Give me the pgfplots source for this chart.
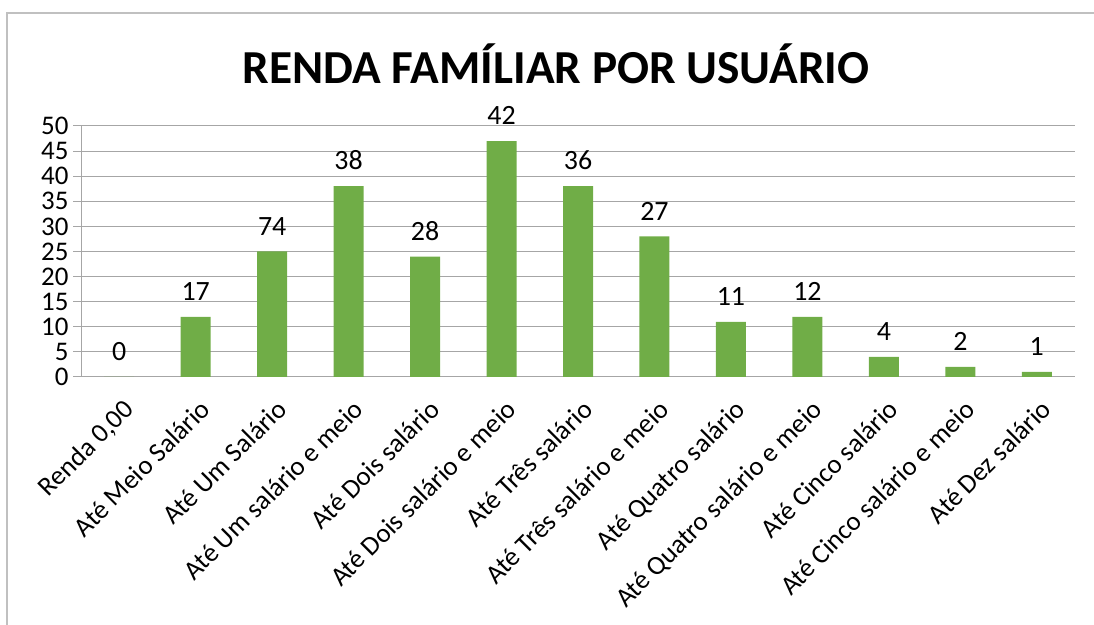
\documentclass[border=0pt]{standalone}
\usepackage{pgfplots}
\pgfplotsset{compat=1.18}
\usepackage{pgfplotstable}
\usepackage{fontspec}
\setmainfont{Carlito}
\definecolor{bargreen}{HTML}{70AD47}
\definecolor{gridgray}{HTML}{A6A6A6}
\definecolor{framegray}{HTML}{C0C0C0}
\pgfplotstableread{
x y lab
0 0 0
1 12 17
2 25 74
3 38 38
4 24 28
5 47 42
6 38 36
7 28 27
8 11 11
9 12 12
10 4 4
11 2 2
12 1 1
}\datatab
\begin{document}
\begin{tikzpicture}[x=1bp,y=1bp]
\useasboundingbox (0,0) rectangle (1094,625);
\draw[framegray,line width=1.2bp] (7,0) -- (7,612) -- (1094,612);
\node[font=\fontsize{47.5}{56}\selectfont\bfseries] at (556,561) {RENDA FAMÍLIAR POR USUÁRIO};
\begin{axis}[
  at={(81bp,248bp)}, anchor=south west,
  width=994bp, height=251bp, scale only axis,
  xmin=-0.5, xmax=12.5, ymin=0, ymax=50,
  ytick={0,5,...,50},
  xtick={0,...,12},
  xticklabels={Renda 0{,}00, Até Meio Salário, Até Um Salário, Até Um salário e meio, Até Dois salário, Até Dois salário e meio, Até Três salário, Até Três salário e meio, Até Quatro salário, Até Quatro salário e meio, Até Cinco salário, Até Cinco salário e meio, Até Dez salário},
  x tick style={draw=none},
  y tick style={gridgray, line width=1bp},
  major tick length=8bp,
  tick align=outside,
  ymajorgrids,
  grid style={gridgray, line width=1bp},
  axis x line*=bottom, axis y line*=left,
  axis line style={gridgray, line width=1bp, -},
  /pgf/number format/assume math mode=true,
  ticklabel style={font=\fontsize{27}{32}\selectfont},
  yticklabel style={xshift=-1bp},
  xticklabel style={rotate=45, anchor=north east, inner sep=2bp, yshift=-9bp, xshift=-5bp},
  nodes near coords,
  point meta=explicit symbolic,
  nodes near coords style={font=\fontsize{28}{32}\selectfont, anchor=south, inner sep=0pt, yshift=16bp},
  clip=false,
]
\addplot[ybar, bar width=30bp, fill=bargreen, draw=none] table[x=x, y=y, meta=lab] {\datatab};
\end{axis}
\end{tikzpicture}
\end{document}
